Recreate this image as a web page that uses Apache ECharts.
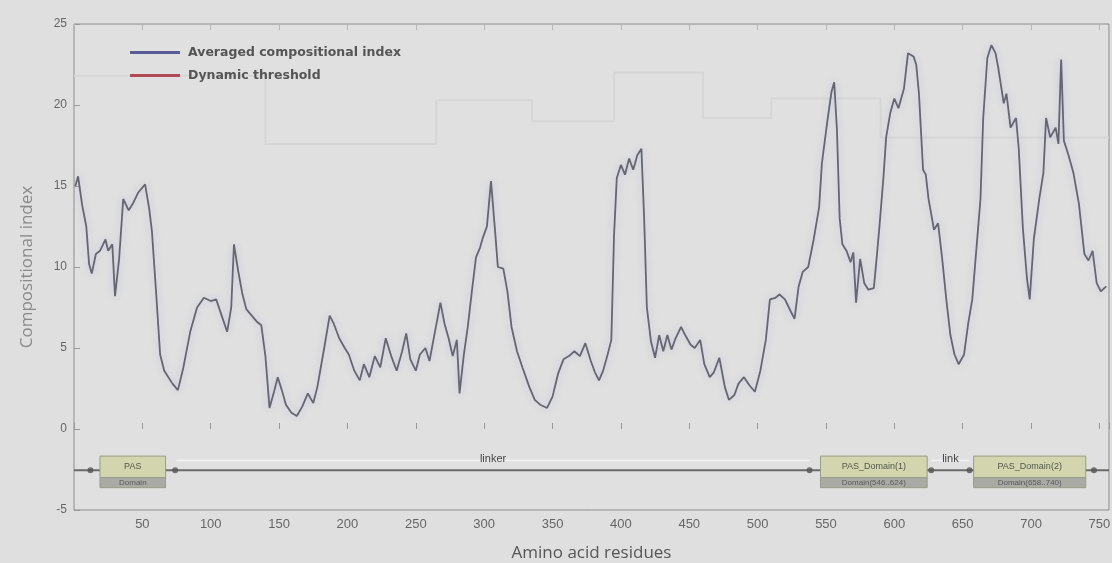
<!DOCTYPE html>
<html>
<head>
<meta charset="utf-8">
<title>Compositional index profile</title>
<script src="https://cdn.jsdelivr.net/npm/echarts@6/dist/echarts.min.js"></script>
<style>
  html, body { margin: 0; padding: 0; background: #dfdfdf; }
  #chart { width: 1112px; height: 563px; }
</style>
</head>
<body>
<div id="chart"></div>
<script>
// Residue positions and averaged compositional index along the sequence
const residues = [1,3,6,9,11,13,16,19,23,25,28,30,33,36,40,43,47,52,55,57,60,63,66,72,76,80,85,90,95,100,104,108,112,115,117,120,123,126,130,134,137,140,143,146,149,152,155,159,163,167,171,175,178,183,187,190,194,198,201,205,209,212,216,220,224,228,232,236,240,243,246,250,253,257,260,264,268,271,274,277,280,282,285,288,291,294,297,299,302,305,308,310,314,317,320,324,328,333,337,341,346,350,354,358,362,366,370,374,378,381,384,387,390,393,395,397,400,403,406,409,412,415,417,419,422,425,428,431,434,437,440,444,447,451,454,458,461,465,468,472,476,479,483,486,490,494,498,502,506,509,513,516,520,524,527,530,533,537,541,545,547,551,554,556,558,560,562,565,568,570,572,575,578,581,585,587,589,592,594,597,600,603,607,610,614,616,618,621,623,625,629,632,635,638,641,644,647,651,654,657,660,663,665,668,671,674,676,680,682,685,689,691,694,697,699,702,706,709,711,714,718,720,722,724,727,731,735,739,742,745,748,751,755];
const compIndex = [15.0,15.6,13.8,12.5,10.2,9.6,10.8,11.0,11.7,11.0,11.4,8.2,10.5,14.2,13.5,13.9,14.6,15.1,13.6,12.2,8.5,4.6,3.6,2.8,2.4,3.8,6.0,7.5,8.1,7.9,8.0,7.0,6.0,7.5,11.4,9.8,8.4,7.4,7.0,6.6,6.4,4.5,1.3,2.2,3.2,2.4,1.5,1.0,0.8,1.4,2.2,1.6,2.6,5.0,7.0,6.5,5.6,5.0,4.6,3.6,3.0,4.0,3.2,4.5,3.8,5.6,4.5,3.6,4.8,5.9,4.3,3.6,4.6,5.0,4.2,6.0,7.8,6.5,5.6,4.5,5.5,2.2,4.5,6.3,8.5,10.6,11.2,11.8,12.5,15.3,12.2,10.0,9.9,8.5,6.3,4.8,3.8,2.6,1.8,1.5,1.3,2.0,3.4,4.3,4.5,4.8,4.5,5.3,4.2,3.5,3.0,3.6,4.5,5.5,12.0,15.5,16.3,15.7,16.7,16.0,16.9,17.3,13.0,7.5,5.4,4.4,5.8,4.8,5.8,4.9,5.6,6.3,5.8,5.2,5.0,5.5,4.0,3.2,3.5,4.4,2.6,1.8,2.1,2.8,3.2,2.7,2.3,3.6,5.5,8.0,8.1,8.3,8.0,7.3,6.8,8.8,9.7,10.0,11.7,13.7,16.4,19.0,20.8,21.4,18.5,13.0,11.4,11.0,10.3,10.9,7.8,10.5,9.0,8.6,8.7,10.5,12.4,15.5,18.0,19.5,20.4,19.8,21.0,23.2,23.0,22.5,20.7,16.0,15.7,14.2,12.3,12.7,10.5,8.0,5.8,4.6,4.0,4.6,6.5,8.0,11.1,14.2,19.2,22.9,23.7,23.2,22.3,20.1,20.7,18.6,19.2,17.3,12.4,9.3,8.0,11.7,14.2,15.8,19.2,18.0,18.6,17.6,22.8,17.8,17.0,15.8,13.9,10.8,10.4,11.0,9.0,8.5,8.8];

// Dynamic threshold, piecewise constant over sequence windows
const thresholdResidues = [0, 140, 265, 335, 395, 460, 510, 590, 650, 757];
const thresholdValues   = [21.8, 17.6, 20.3, 19.0, 22.0, 19.2, 20.4, 18.0, 18.0, 18.0];

// Domain architecture: [start, end, upper label, lower label]
const domains = [
  [19, 67, 'PAS', 'Domain'],
  [546, 624, 'PAS_Domain(1)', 'Domain(546..624)'],
  [658, 740, 'PAS_Domain(2)', 'Domain(658..740)']
];
const linkerRange = [75, 538];
const linkerLabel = 'linker';
const shortLinker = [627, 655, 'link'];
const junctions = [12, 74, 538, 627, 655, 746];
const sequenceLength = 757;

// Tick values of the axes
const xTickStep = 50;
const yTicks = [-5, 0, 5, 10, 15, 20, 25];

const seriesNames = ['Averaged compositional index', 'Dynamic threshold'];

const chart = echarts.init(document.getElementById('chart'));

const indexData = residues.map((r, i) => [r, compIndex[i]]);
const thresholdData = thresholdResidues.map((r, i) => [r, thresholdValues[i]]);

const TRACK_Y = -2.55;      // value-space row of the domain track
const BOX_H = 1.95;         // domain box height in value units

function renderDomain(params, api) {
  const s = api.value(0), e = api.value(1);
  const p1 = api.coord([s, TRACK_Y]);
  const p2 = api.coord([e, TRACK_Y]);
  const h = api.size([0, BOX_H])[1];
  const x = p1[0], w = p2[0] - p1[0];
  const top = p1[1] - h * 0.45;
  const upperH = h * 0.68;
  return {
    type: 'group',
    children: [
      { type: 'rect', shape: { x: x, y: top, width: w, height: upperH },
        style: { fill: '#d2d5ae', stroke: '#9a9c88', lineWidth: 1 } },
      { type: 'rect', shape: { x: x, y: top + upperH, width: w, height: h - upperH },
        style: { fill: '#a9aaa4', stroke: '#9a9c88', lineWidth: 1 } },
      { type: 'text', style: { x: x + w / 2, y: top + upperH * 0.5, text: api.value(2),
        fill: '#55574a', font: '9px "Liberation Sans"', align: 'center', verticalAlign: 'middle' } },
      { type: 'text', style: { x: x + w / 2, y: top + upperH + (h - upperH) / 2, text: api.value(3),
        fill: '#5a5a5a', font: '8px "Liberation Sans"', align: 'center', verticalAlign: 'middle' } }
    ]
  };
}

function renderBackbone(params, api) {
  const a = api.coord([api.value(0), TRACK_Y]);
  const b = api.coord([api.value(1), TRACK_Y]);
  return { type: 'line', shape: { x1: a[0], y1: a[1], x2: b[0], y2: b[1] },
    style: { stroke: '#6a6a6a', lineWidth: 2 } };
}

function renderLinker(params, api) {
  const a = api.coord([api.value(0), TRACK_Y]);
  const b = api.coord([api.value(1), TRACK_Y]);
  const label = api.value(2);
  const off = api.size([0, 0.6])[1];
  return {
    type: 'group',
    children: [
      { type: 'line', shape: { x1: a[0], y1: a[1] - off, x2: b[0], y2: b[1] - off },
        style: { stroke: '#f2f2f2', lineWidth: 1.5 } },
      { type: 'text', style: { x: (a[0] + b[0]) / 2, y: a[1] - off + 4, text: label,
        fill: '#444', font: '11px "Liberation Sans"', align: 'center', verticalAlign: 'bottom' } }
    ]
  };
}

chart.setOption({
  backgroundColor: '#dfdfdf',
  animation: false,
  grid: { left: 74, right: 3, top: 24, bottom: 53, show: true, outerBoundsMode: 'none',
    containLabel: false,
    backgroundColor: '#e0e0e0', borderColor: '#8c8c8c', borderWidth: 1 },
  legend: {
    data: seriesNames,
    orient: 'vertical',
    left: 125, top: 41,
    itemWidth: 50, itemHeight: 3, itemGap: 10,
    icon: 'rect',
    textStyle: { color: '#555', fontSize: 12.5, fontWeight: 'bold', fontFamily: 'DejaVu Sans',
      padding: [0, 0, 0, 3] }
  },
  xAxis: [{
    type: 'value', min: 0, max: sequenceLength, interval: xTickStep,
    name: 'Amino acid residues', nameLocation: 'middle', nameGap: 35,
    nameTextStyle: { color: '#555', fontSize: 17, fontFamily: 'Open Sans' },
    axisLine: { show: false },
    axisTick: { inside: true, length: 6, lineStyle: { color: '#9a9a9a' } },
    axisLabel: { color: '#666', fontSize: 13, fontFamily: 'Liberation Sans', margin: 8,
      formatter: v => (v > 0 && v % xTickStep === 0) ? String(v) : '' },
    splitLine: { show: false }
  }, {
    type: 'value', position: 'top', min: 0, max: sequenceLength, interval: xTickStep,
    axisLine: { show: false }, axisLabel: { show: false },
    axisTick: { inside: true, length: 6, lineStyle: { color: '#b8b8b8' } },
    splitLine: { show: false }
  }],
  yAxis: {
    type: 'value', min: yTicks[0], max: yTicks[yTicks.length - 1], interval: 5,
    name: 'Compositional index', nameLocation: 'middle', nameGap: 38,
    nameTextStyle: { color: '#8a8a8a', fontSize: 17, fontFamily: 'Open Sans' },
    axisLine: { show: false },
    axisTick: { inside: true, length: 6, lineStyle: { color: '#9a9a9a' } },
    axisLabel: { color: '#666', fontSize: 12, fontFamily: 'Liberation Sans', margin: 7 },
    splitLine: { show: false }
  },
  series: [
    {
      name: seriesNames[0], type: 'line', data: indexData, showSymbol: false, z: 5,
      color: '#5b5b96',
      lineStyle: { color: '#66666f', width: 1.8, shadowColor: 'rgba(130,130,225,0.35)', shadowBlur: 7 }
    },
    {
      name: seriesNames[1], type: 'line', data: thresholdData, step: 'end', showSymbol: false, z: 2,
      color: '#b04a55',
      lineStyle: { color: '#d6d6d6', width: 2 }
    },
    {
      type: 'custom', renderItem: renderBackbone, data: [[0, sequenceLength]], z: 3, silent: true
    },
    {
      type: 'custom', renderItem: renderLinker,
      data: [[linkerRange[0], linkerRange[1], linkerLabel], shortLinker], z: 3, silent: true
    },
    {
      type: 'custom', renderItem: renderDomain, data: domains, z: 4, silent: true
    },
    {
      type: 'scatter', data: junctions.map(r => [r, TRACK_Y]), symbolSize: 6, z: 6, silent: true,
      itemStyle: { color: '#555' }
    }
  ]
});
</script>
</body>
</html>
